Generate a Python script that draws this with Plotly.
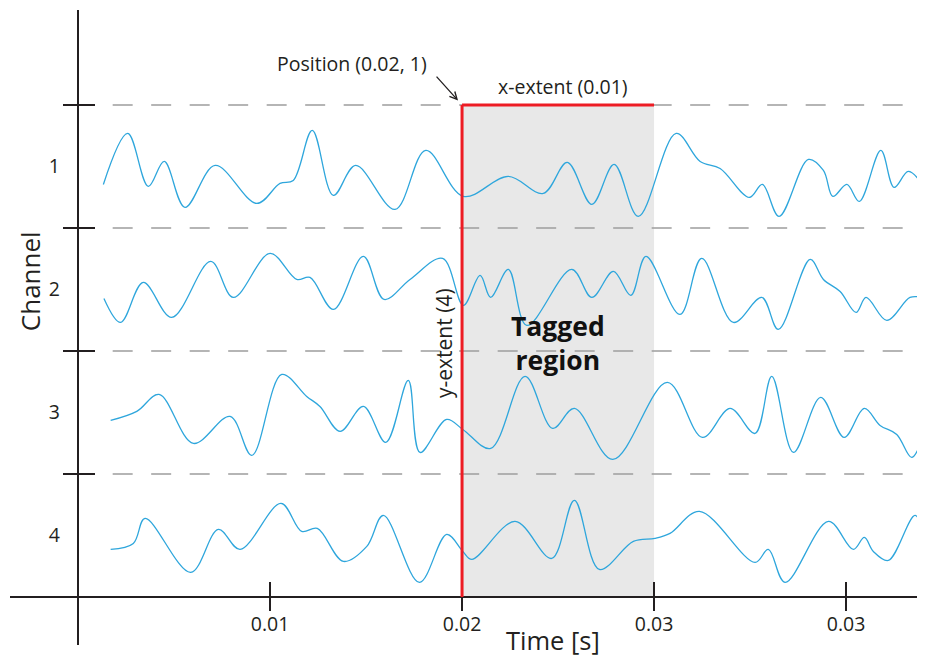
import plotly.graph_objects as go

# ---------------- data ----------------
# time in ms, amplitude in arbitrary units (123 units = one channel band)
ch1_t = [1.32, 2.59, 3.66, 4.49, 5.57, 7.14, 9.31, 10.52, 11.21, 12.20, 13.30, 14.46, 16.51, 18.11,
         20.07, 22.41, 24.23, 25.48, 26.76, 27.92, 29.18, 31.15, 32.40, 33.44, 34.96, 35.64, 36.51,
         38.04, 38.82, 39.31, 40.04, 40.69, 41.81, 42.50, 43.24, 43.94]
ch1_v = [-18, 33, -20, 5, -41, 1, -37, -17, -14, 36, -29, 1, -43, 16,
         -30, -10, -27, 4, -38, 2, -50, 33, 5, -2, -31, -18, -50,
         7, -4, -30, -18, -35, 16, -21, -5, -17]

ch2_t = [1.35, 2.22, 3.40, 4.88, 6.91, 8.09, 10.00, 11.39, 12.08, 13.30, 14.86, 15.94, 17.29, 18.99,
         20.07, 20.94, 21.49, 22.41, 23.37, 25.71, 26.76, 27.88, 28.79, 29.58, 31.35, 32.48, 34.13,
         35.61, 36.47, 38.13, 38.82, 39.69, 40.52, 41.04, 42.12, 43.33, 43.94]
ch2_v = [-9, -33, 7, -28, 28, -8, 36, 10, 12, -20, 33, -10, 10, 31,
         -16, 14, -8, 20, -36, 20, -8, 18, -6, 33, -25, 31, -33,
         -8, -40, 30, 10, -2, -23, -8, -31, -8, -8]

ch3_t = [1.70, 3.06, 4.22, 6.01, 7.92, 9.05, 10.61, 11.91, 12.60, 13.65, 14.86, 16.03, 17.20, 17.81,
         19.20, 20.04, 21.49, 23.28, 24.72, 25.85, 27.85, 30.69, 32.52, 33.96, 35.26, 36.13, 37.26,
         38.68, 39.90, 40.95, 41.77, 42.64, 43.42, 44.06]
ch3_v = [-8, 1, 18, -31, -4, -43, 38, 16, 6, -19, 6, -30, 32, -40,
         -7, -17, -36, 36, -16, 4, -47, 30, -25, 4, -21, 36, -40,
         15, -25, 4, -13, -22, -45, -21]

ch4_t = [1.70, 2.88, 3.49, 5.87, 7.31, 8.44, 10.57, 11.65, 12.46, 13.82, 15.04, 15.90, 17.78, 19.20,
         20.04, 20.51, 22.76, 24.67, 25.85, 27.15, 28.92, 30.05, 30.83, 32.36, 35.26, 35.95, 36.82,
         39.08, 40.38, 40.95, 41.42, 42.20, 43.59, 44.06]
ch4_v = [-14, -8, 17, -37, 6, -14, 32, 4, 7, -26, -11, 20, -47, 1,
         -16, -24, 14, -23, 35, -34, -6, -3, 2, 24, -27, -14, -47,
         14, -14, -2, -16, -25, 20, 2]

channels = [1, 2, 3, 4]
channel_labels = ["1", "2", "3", "4"]
x_tickvals = [0.01, 0.02, 0.03, 0.04]
x_ticktext = ["0.01", "0.02", "0.03", "0.03"]

tag_position = (0.02, 1)   # (time [s], channel)
tag_x_extent = 0.01
tag_y_extent = 4

# ---------------- styling / layout constants ----------------
AMP_PER_BAND = 123.0
X_RANGE = [-0.003542, 0.04411]
Y_RANGE = [4.891, -0.272]     # reversed: channel 1 on top
FONT = "Open Sans"
INK = "#231f20"
BLUE = "#2ea6dc"
RED = "#ed1c24"

series_t = [ch1_t, ch2_t, ch3_t, ch4_t]
series_v = [ch1_v, ch2_v, ch3_v, ch4_v]
separators = [c - 0.5 for c in channels] + [channels[-1] + 0.5]

fig = go.Figure()
for ch, ts, vs in zip(channels, series_t, series_v):
    fig.add_trace(go.Scatter(
        x=[t / 1000.0 for t in ts],
        y=[ch - v / AMP_PER_BAND for v in vs],
        mode="lines",
        line=dict(color=BLUE, width=1.3, shape="spline", smoothing=1.0),
        hoverinfo="skip",
        showlegend=False,
    ))

# empty traces so the overlaying axes (crossing ticks, channel labels) get drawn
for xa, ya in [("x2", "y"), ("x", "y2"), ("x", "y3")]:
    fig.add_trace(go.Scatter(x=[], y=[], xaxis=xa, yaxis=ya, mode="lines",
                             hoverinfo="skip", showlegend=False))

x_axis_pos = (Y_RANGE[0] - separators[-1]) / (Y_RANGE[0] - Y_RANGE[1])
y_axis_pos = (0 - X_RANGE[0]) / (X_RANGE[1] - X_RANGE[0])

# tagged region
tx0 = tag_position[0]
tx1 = tag_position[0] + tag_x_extent
ty0 = tag_position[1] - 0.5
ty1 = ty0 + tag_y_extent

shapes = [
    dict(type="rect", xref="x", yref="y", x0=tx0, x1=tx1, y0=ty0, y1=ty1,
         fillcolor="#e8e8e8", line=dict(width=0), layer="below"),
]
for s in separators[:-1]:
    shapes.append(dict(type="line", xref="x", yref="y", x0=-0.0002, x1=X_RANGE[1], y0=s, y1=s,
                       line=dict(color="#9d9d9d", width=1.5, dash="20px,18.5px"), layer="below"))
shapes.append(dict(type="line", xref="x", yref="y", x0=tx0, x1=tx0, y0=ty0, y1=ty1,
                   line=dict(color=RED, width=3), layer="above"))
shapes.append(dict(type="line", xref="x", yref="y", x0=tx0, x1=tx1, y0=ty0, y1=ty0,
                   line=dict(color=RED, width=3), layer="above"))

annotations = [
    # arrow only
    dict(x=tx0, y=ty0, xref="x", yref="y", text=" ",
         showarrow=True, ax=-27, ay=-30, axref="pixel", ayref="pixel",
         arrowhead=5, arrowsize=1.1, arrowwidth=1.3,
         arrowcolor=INK, standoff=6, font=dict(family=FONT, size=1, color=INK)),
    dict(x=tx0, y=ty0, xref="x", yref="y", text="Position (%g, %d)" % tag_position,
         showarrow=False, xanchor="right", yanchor="middle", xshift=-33, yshift=41,
         font=dict(family=FONT, size=19.5, color=INK)),
    dict(x=(tx0 + tx1) / 2, y=ty0, xref="x", yref="y", text="x-extent (%g)" % tag_x_extent,
         showarrow=False, yanchor="bottom", xshift=5, yshift=3,
         font=dict(family=FONT, size=19.5, color=INK)),
    dict(x=tx0, y=(ty0 + ty1) / 2, xref="x", yref="y", text="y-extent (%d)" % tag_y_extent,
         showarrow=False, textangle=-90, xshift=-18, yshift=8,
         font=dict(family=FONT, size=21, color=INK)),
    dict(x=(tx0 + tx1) / 2, y=(ty0 + ty1) / 2, xref="x", yref="y", text="<b>Tagged<br>region</b>",
         showarrow=False, yshift=8, font=dict(family=FONT, size=26.5, color="#111")),
    dict(x=0.5934, y=0.008, xref="paper", yref="paper", text="Time [s]", showarrow=False,
         xanchor="center", yanchor="middle", font=dict(family=FONT, size=25.5, color=INK)),
    dict(x=0.0219, y=0.573, xref="paper", yref="paper", text="Channel", showarrow=False,
         xanchor="center", yanchor="middle",
         textangle=-90, font=dict(family=FONT, size=26, color=INK)),
]

# the page body has an 8px margin, so the figure is offset by (8, 8)
fig.update_layout(
    width=917, height=648, autosize=False,
    margin=dict(l=2, r=0, t=2, b=11, pad=0, autoexpand=False),
    plot_bgcolor="white", paper_bgcolor="white",
    showlegend=False,
    shapes=shapes, annotations=annotations,
    xaxis=dict(range=X_RANGE, anchor="free", position=x_axis_pos, showgrid=False, zeroline=False,
               showline=True, linecolor=INK, linewidth=2, automargin=False,
               tickmode="array", tickvals=x_tickvals, ticktext=x_ticktext,
               ticks="outside", ticklen=13, tickwidth=1.5, tickcolor=INK,
               ticklabelstandoff=-3,
               tickfont=dict(family=FONT, size=19.5, color=INK)),
    xaxis2=dict(range=X_RANGE, overlaying="x", anchor="free", position=x_axis_pos,
                showgrid=False, zeroline=False, showline=False, automargin=False,
                tickmode="array", tickvals=x_tickvals, ticks="inside", ticklen=15,
                tickwidth=1.5, tickcolor=INK, showticklabels=False),
    yaxis=dict(range=Y_RANGE, anchor="free", position=y_axis_pos, showgrid=False, zeroline=False,
               showline=True, linecolor=INK, linewidth=2, automargin=False,
               tickmode="array", tickvals=separators, ticks="outside", ticklen=14,
               tickwidth=2, tickcolor=INK, showticklabels=False),
    yaxis2=dict(range=Y_RANGE, overlaying="y", anchor="free", position=y_axis_pos,
                showgrid=False, zeroline=False, showline=False, automargin=False,
                tickmode="array", tickvals=separators, ticks="inside", ticklen=16,
                tickwidth=2, tickcolor=INK, showticklabels=False),
    yaxis3=dict(range=Y_RANGE, overlaying="y", anchor="free", position=y_axis_pos,
                showgrid=False, zeroline=False, showline=False, automargin=False,
                tickmode="array", tickvals=channels, ticktext=channel_labels, ticks="",
                ticklabelstandoff=18,
                tickfont=dict(family=FONT, size=19.5, color=INK)),
)

fig.write_html("out.html")
